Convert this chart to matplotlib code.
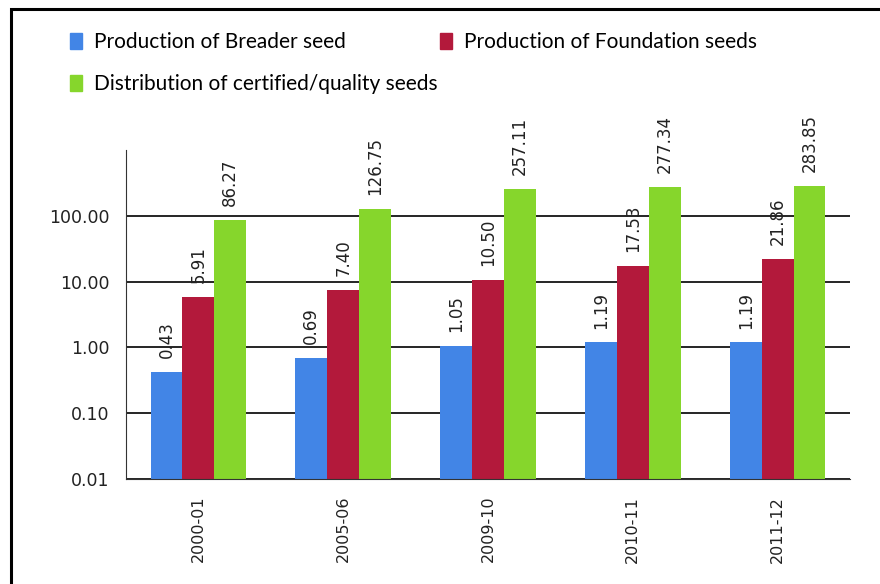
import numpy as np
import matplotlib
matplotlib.use("Agg")
import matplotlib.pyplot as plt
from matplotlib.patches import Rectangle, Patch
from matplotlib.ticker import FixedLocator, FormatStrFormatter, NullLocator

plt.rcParams["font.family"] = ["DejaVu Sans"]

## データ
years = ["2000-01", "2005-06", "2009-10", "2010-11", "2011-12"]
breeder = [0.43, 0.69, 1.05, 1.19, 1.19]
foundation = [5.91, 7.40, 10.50, 17.53, 21.86]
certified = [86.27, 126.75, 257.11, 277.34, 283.85]
series_names = ["Production of Breader seed",
                "Production of Foundation seeds",
                "Distribution of certified/quality seeds"]
colors = ["#4285e6", "#b3193b", "#86d62c"]
yticks = [0.01, 0.1, 1, 10, 100]

fig = plt.figure(figsize=(8.8, 5.84), dpi=100)
ax = fig.add_axes([126/880, 1-479/584, (850-126)/880, (479-150)/584])

x = np.arange(len(years))
w = 0.22
for i, (vals, name, c) in enumerate(zip([breeder, foundation, certified], series_names, colors)):
    rects = ax.bar(x + (i-1)*w, vals, w, color=c, label=name, zorder=2)
    ax.bar_label(rects, labels=["%.2f" % v for v in vals], rotation=90,
                 padding=10, fontsize=12, color="#222222")

ax.set_yscale("log")
ax.set_ylim(0.01, 1000)
ax.set_xlim(-0.5, len(years)-0.5)
ax.yaxis.set_major_locator(FixedLocator(yticks))
ax.yaxis.set_minor_locator(NullLocator())
ax.yaxis.set_major_formatter(FormatStrFormatter("%.2f"))
ax.yaxis.grid(True, color="black", lw=1.2, zorder=1)
ax.set_axisbelow(True)
ax.set_xticks(x)
ax.set_xticklabels(years, rotation=90, fontsize=11.5, color="#222222")
ax.tick_params(axis="y", length=0, labelsize=12.5, labelcolor="#222222", pad=12)
ax.tick_params(axis="x", length=0, pad=12)
for s in ["top", "right"]:
    ax.spines[s].set_visible(False)
ax.spines["left"].set_color("#333333")
ax.spines["bottom"].set_color("#333333")

## 凡例（1項目ずつ配置）
leg_pos = [(62, 24), (432, 24), (62, 66)]
for name, c, (lx, ly) in zip(series_names, colors, leg_pos):
    fig.legend([Patch(color=c)], [name], loc="upper left",
               bbox_to_anchor=(lx/880, 1-ly/584), frameon=False,
               prop={"family": "Lato", "size": 15}, handlelength=0.55,
               handleheight=0.85, handletextpad=0.6, borderaxespad=0)

## 外枠
fig.add_artist(Rectangle((11/880, -0.1), 1.0, (584-9)/584 + 0.1,
                         transform=fig.transFigure, fill=False, lw=2.2, color="black"))

fig.savefig("out.png", dpi=100)
